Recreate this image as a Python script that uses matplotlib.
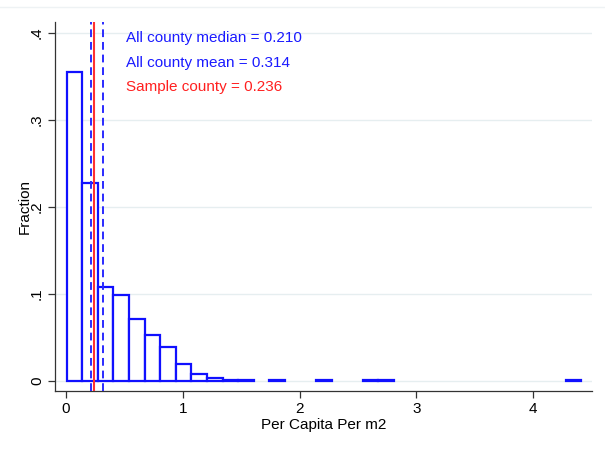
import numpy as np
import matplotlib
matplotlib.use("Agg")
import matplotlib.pyplot as plt
from matplotlib.lines import Line2D

plt.rcParams['font.family'] = ['Liberation Sans', 'DejaVu Sans']

# histogram: 33 bins from ~0 to ~4.41
bin_start = 0.005
bin_width = 0.1335
fractions = [0.355, 0.228, 0.108, 0.0985, 0.0716, 0.0525, 0.039, 0.019, 0.008,
             0.003, 0.0012, 0.0009, 0, 0.0008, 0, 0, 0.0008, 0, 0,
             0.0008, 0.0008, 0, 0, 0, 0, 0, 0, 0, 0, 0, 0, 0, 0.0008]

median_all = 0.210
mean_all = 0.314
sample_val = 0.236

x_ticks = [0, 1, 2, 3, 4]
y_ticks = [0, 0.1, 0.2, 0.3, 0.4]
y_tick_labels = ["0", ".1", ".2", ".3", ".4"]

W, H = 605, 449
fig = plt.figure(figsize=(W / 100, H / 100), dpi=100)
ax = fig.add_axes([55 / W, 1 - 391 / H, (592 - 55) / W, (391 - 22) / H])

edges = bin_start + bin_width * np.arange(len(fractions))
for left, h in zip(edges, fractions):
    if h <= 0:
        continue
    ax.bar(left, h, width=bin_width, align="edge", facecolor="white",
           edgecolor="#1010ff", linewidth=1.6, zorder=3)

ax.axvline(median_all, color="#2a2aff", linestyle=(0, (4, 2.5)), linewidth=1.4, zorder=4)
ax.axvline(mean_all, color="#2a2aff", linestyle=(0, (4, 2.5)), linewidth=1.4, zorder=4)
ax.axvline(sample_val, color="#ff3030", linestyle="-", linewidth=1.5, zorder=5)

fs = 11
ax.text(0.51, 0.3945, f"All county median = {median_all:.3f}", color="#1a1aff",
        fontsize=fs, va="center", ha="left")
ax.text(0.51, 0.3655, f"All county mean = {mean_all:.3f}", color="#1a1aff",
        fontsize=fs, va="center", ha="left")
ax.text(0.51, 0.338, f"Sample county = {sample_val:.3f}", color="#ff2020",
        fontsize=fs, va="center", ha="left")

ax.set_xlim(-0.094, 4.503)
ax.set_ylim(-0.0115, 0.4126)
ax.set_xticks(x_ticks)
ax.set_yticks(y_ticks)
ax.set_yticklabels(y_tick_labels, rotation=90, va="center")
ax.tick_params(axis="both", labelsize=fs, length=5, width=0.9, color="#333333",
               direction="out", pad=3)
ax.grid(axis="y", color="#e6eef0", linewidth=1.0, zorder=0)
ax.set_axisbelow(True)

for side in ["top", "right"]:
    ax.spines[side].set_visible(False)
for side in ["left", "bottom"]:
    ax.spines[side].set_color("#333333")
    ax.spines[side].set_linewidth(0.9)

ax.set_xlabel("Per Capita Per m2", fontsize=fs, labelpad=1)
ax.set_ylabel("Fraction", fontsize=fs, labelpad=-1)

fig.add_artist(Line2D([0, 1], [1 - 7 / H, 1 - 7 / H], color="#eef2f4", linewidth=1.0))

fig.savefig("out.png", dpi=100)
